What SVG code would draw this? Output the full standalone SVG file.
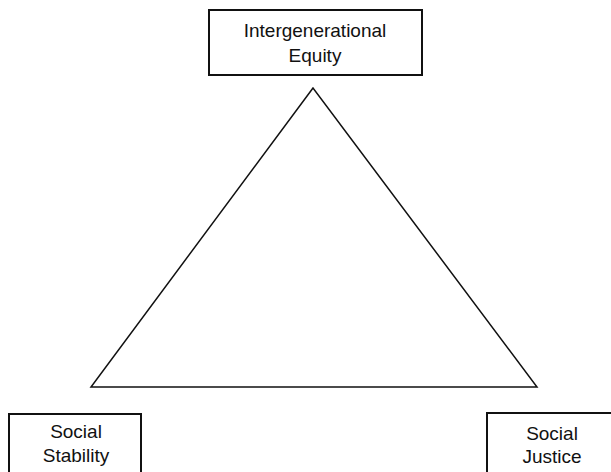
<svg xmlns="http://www.w3.org/2000/svg" width="611" height="472" viewBox="0 0 611 472">
<style>
.box{fill:#fff;stroke:#111;stroke-width:2}
.lbl{font-family:"Liberation Sans",Arial,sans-serif;font-size:19px;fill:#111;text-anchor:middle}
.tri{fill:none;stroke:#111;stroke-width:1.5;stroke-linejoin:miter}
</style>
<rect width="611" height="472" fill="#fff"/>
<g id="connectors">
<polygon class="tri" points="313,88 91,387 537,387"/>
</g>
<g id="node-intergenerational-equity">
<rect class="box" x="209" y="10" width="213" height="65"/>
<text class="lbl" x="315" y="37">Intergenerational</text>
<text class="lbl" x="315" y="62">Equity</text>
</g>
<g id="node-social-stability">
<rect class="box" x="9" y="414" width="132" height="70"/>
<text class="lbl" x="76" y="438">Social</text>
<text class="lbl" x="76" y="462">Stability</text>
</g>
<g id="node-social-justice">
<rect class="box" x="487" y="413" width="140" height="70"/>
<text class="lbl" x="552" y="440">Social</text>
<text class="lbl" x="552" y="463">Justice</text>
</g>
</svg>
